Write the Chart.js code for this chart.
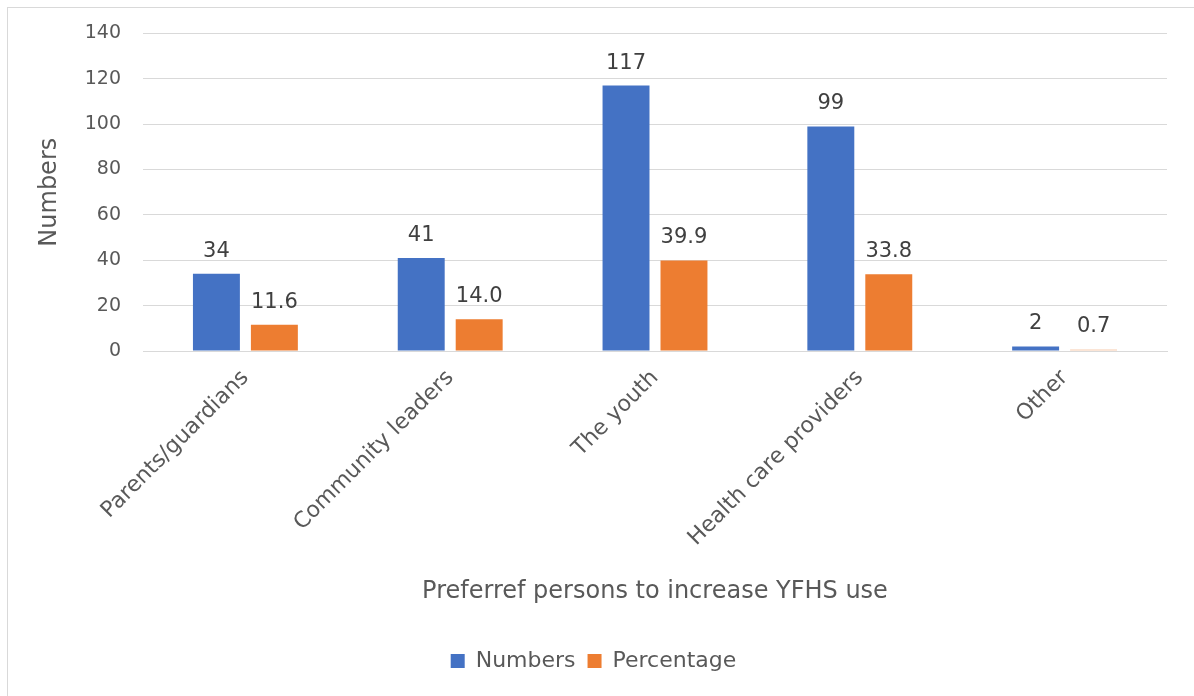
<!DOCTYPE html>
<html>
<head>
<meta charset="utf-8">
<script src="https://cdn.jsdelivr.net/npm/chart.js@4"></script>
<style>
  html, body { margin: 0; padding: 0; background: #fff; }
  #wrap { position: relative; width: 1194px; height: 696px; overflow: hidden; }
  #frame { position: absolute; left: 7px; top: 7px; width: 1200px; height: 700px; border: 1px solid #d9d9d9; box-sizing: border-box; }
  #box { position: absolute; left: 0; top: 0; width: 1194px; height: 696px; }
</style>
</head>
<body>
<div id="wrap">
  <div id="frame"></div>
  <div id="box"><canvas id="bar-chart"></canvas></div>
</div>
<script>
const categories = ['Parents/guardians', 'Community leaders', 'The youth', 'Health care providers', 'Other'];
const numbers = [34, 41, 117, 99, 2];
const percentage = [11.6, 14.0, 39.9, 33.8, 0.7];
const percentLabels = ['11.6', '14.0', '39.9', '33.8', '0.7'];
const yTicks = [0, 20, 40, 60, 80, 100, 120, 140];

const font = "'DejaVu Sans', sans-serif";
const grey = '#595959';

// labels above each bar
const barLabels = {
  id: 'barLabels',
  afterDatasetsDraw(chart) {
    const c = chart.ctx;
    c.save();
    c.font = '21px ' + font;
    c.fillStyle = '#404040';
    c.textAlign = 'center';
    c.textBaseline = 'alphabetic';
    chart.data.datasets.forEach((ds, i) => {
      chart.getDatasetMeta(i).data.forEach((bar, j) => {
        const txt = i === 0 ? String(ds.data[j]) : percentLabels[j];
        c.fillText(txt, bar.x, bar.y - 17);
      });
    });
    c.restore();
  }
};

const ctx = document.getElementById('bar-chart');

new Chart(ctx, {
  type: 'bar',
  data: {
    labels: categories,
    datasets: [{
      label: 'Numbers',
      data: numbers,
      backgroundColor: '#4472C4',
      borderWidth: 0
    }, {
      label: 'Percentage',
      data: percentage,
      backgroundColor: ['#ED7D31', '#ED7D31', '#ED7D31', '#ED7D31', '#F8CBAD'],
      borderWidth: 0
    }]
  },
  options: {
    responsive: true,
    maintainAspectRatio: false,
    animation: false,
    datasets: {
      bar: { categoryPercentage: 0.566, barPercentage: 0.81 }
    },
    layout: { padding: { left: 20, right: 27, top: 33, bottom: 14 } },
    plugins: {
      tooltip: { enabled: false },
      legend: {
        position: 'bottom',
        labels: {
          color: grey,
          font: { family: font, size: 22 },
          boxWidth: 14,
          boxHeight: 14,
          padding: 12,
          useBorderRadius: false
        }
      }
    },
    scales: {
      x: {
        afterFit(scale) {
          scale.height = 287;
        },
        grid: { display: false, drawTicks: false },
        border: { color: '#d9d9d9' },
        ticks: {
          color: grey,
          font: { family: font, size: 22 },
          minRotation: 45,
          maxRotation: 45,
          padding: 14
        },
        title: {
          display: true,
          text: 'Preferref persons to increase YFHS use',
          color: grey,
          font: { family: font, size: 24 },
          padding: { top: 20, bottom: 32 }
        }
      },
      y: {
        min: 0,
        max: 140,
        afterBuildTicks(scale) {
          scale.ticks = yTicks.map(v => ({ value: v }));
        },
        afterFit(scale) {
          scale.width = 123;
        },
        grid: { color: '#d9d9d9', drawTicks: false },
        border: { display: false },
        ticks: {
          color: grey,
          font: { family: font, size: 19 },
          padding: 22
        },
        title: {
          display: true,
          text: 'Numbers',
          color: grey,
          font: { family: font, size: 24 },
          padding: { top: 15, bottom: 4 }
        }
      }
    }
  },
  plugins: [barLabels]
});
</script>
</body>
</html>
